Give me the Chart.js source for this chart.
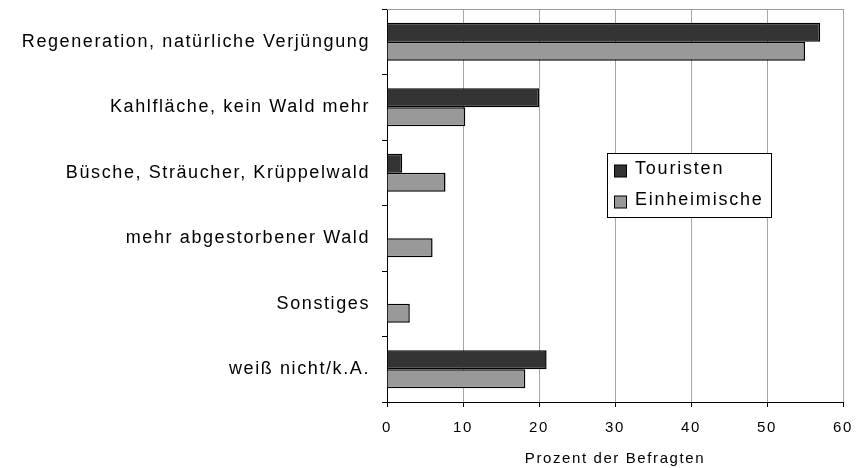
<!DOCTYPE html>
<html lang="de">
<head>
  <meta charset="UTF-8" />
  <title>Prozent der Befragten</title>
  <script src="https://cdn.jsdelivr.net/npm/chart.js"></script>
  <style>
    html, body { margin: 0; padding: 0; background: #fff; }
    #wrap { width: 856px; height: 468px; }
  </style>
</head>
<body>
  <div id="wrap"><canvas id="grafico"></canvas></div>

  <script>
    const kategorien = [
      'Regeneration, natürliche Verjüngung',
      'Kahlfläche, kein Wald mehr',
      'Büsche, Sträucher, Krüppelwald',
      'mehr abgestorbener Wald',
      'Sonstiges',
      'weiß nicht/k.A.'
    ];
    const touristen = [57, 20, 2, null, null, 21];
    const einheimische = [55, 10.3, 7.7, 6, 3, 18.2];
    const xTicks = [0, 10, 20, 30, 40, 50, 60];

    const schrift = "'Liberation Sans', Arial, sans-serif";

    // gesperrte Schrift wie im Original
    const sperrung = {
      id: 'sperrung',
      beforeDraw(chart) {
        chart.ctx.letterSpacing = '1.6px';
      }
    };

    // Legende als Kasten im Diagramm, Rahmen oben
    const rahmenUndLegende = {
      id: 'rahmenUndLegende',
      afterDraw(chart) {
        const { ctx, chartArea } = chart;
        ctx.save();
        ctx.strokeStyle = '#999';
        ctx.lineWidth = 1;
        ctx.beginPath();
        ctx.moveTo(chartArea.left, chartArea.top + 0.5);
        ctx.lineTo(chartArea.right, chartArea.top + 0.5);
        ctx.stroke();

        const bx = 607.5, by = 153.5, bw = 164, bh = 64;
        ctx.fillStyle = '#fff';
        ctx.fillRect(bx, by, bw, bh);
        ctx.strokeStyle = '#000';
        ctx.strokeRect(bx, by, bw, bh);
        ctx.font = '18px ' + schrift;
        ctx.letterSpacing = '1.8px';
        ctx.textBaseline = 'middle';
        chart.data.datasets.forEach((ds, i) => {
          const y = 169.5 + i * 31;
          ctx.fillStyle = ds.backgroundColor;
          ctx.fillRect(614.5, y - 4.5, 12, 12);
          ctx.strokeStyle = '#000';
          ctx.strokeRect(614.5, y - 4.5, 12, 12);
          ctx.fillStyle = '#000';
          ctx.fillText(ds.label, 635, y);
        });
        ctx.restore();
      }
    };

    new Chart(document.getElementById('grafico'), {
      type: 'bar',
      data: {
        labels: kategorien,
        datasets: [
          {
            label: 'Touristen',
            data: touristen,
            backgroundColor: '#333333',
            borderColor: '#000',
            borderWidth: 1.5
          },
          {
            label: 'Einheimische',
            data: einheimische,
            backgroundColor: '#999999',
            borderColor: '#000',
            borderWidth: 1.5
          }
        ]
      },
      options: {
        indexAxis: 'y',
        responsive: true,
        maintainAspectRatio: false,
        animation: false,
        categoryPercentage: 0.58,
        barPercentage: 1,
        layout: { padding: { top: 9, right: 13, left: 0, bottom: 0 } },
        plugins: {
          legend: { display: false },
          tooltip: { enabled: false }
        },
        scales: {
          x: {
            min: 0,
            max: 60,
            afterBuildTicks(scale) {
              scale.ticks = xTicks.map(v => ({ value: v }));
            },
            afterFit(scale) {
              scale.height = 66;
              scale.paddingLeft = 0;
              scale.paddingRight = 0;
            },
            grid: {
              color: '#a6a6a6',
              tickColor: '#000',
              tickLength: 5
            },
            border: { color: '#000', width: 1 },
            ticks: {
              color: '#000',
              padding: 11.5,
              font: { family: schrift, size: 15 }
            },
            title: {
              display: true,
              text: 'Prozent der Befragten',
              color: '#000',
              padding: { top: 0, bottom: 0 },
              font: { family: schrift, size: 15 }
            }
          },
          y: {
            afterFit(scale) {
              scale.width = 387;
              scale.paddingTop = 0;
              scale.paddingBottom = 0;
            },
            grid: {
              drawOnChartArea: false,
              offset: true,
              tickColor: '#000',
              tickLength: 5
            },
            border: { color: '#000', width: 1 },
            ticks: {
              color: '#000',
              padding: 12,
              font: { family: schrift, size: 18 }
            }
          }
        }
      },
      plugins: [sperrung, rahmenUndLegende]
    });
  </script>
</body>
</html>
